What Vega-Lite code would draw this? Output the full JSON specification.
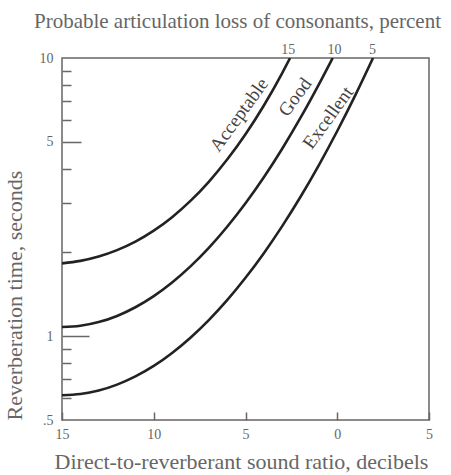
{
  "$schema": "https://vega.github.io/schema/vega-lite/v6.json",
  "width": 367,
  "height": 362,
  "autosize": {"type": "none"},
  "padding": {"left": 62, "top": 58, "right": 22, "bottom": 55},
  "background": "white",
  "config": {
    "view": {"stroke": "#666", "strokeWidth": 1.5},
    "font": "Liberation Serif",
    "axis": {
      "grid": false,
      "domain": false,
      "labelFont": "Liberation Serif",
      "titleFont": "Liberation Serif",
      "labelColor": "#666",
      "titleColor": "#666",
      "titleFontWeight": "normal",
      "tickColor": "#666",
      "tickWidth": 1.5,
      "labelFontSize": 14,
      "titleFontSize": 22,
      "labelOverlap": false,
      "labelBound": false,
      "labelFlush": false
    }
  },
  "datasets": {
    "curves": [
      {"curve": "Acceptable", "db": 15, "t": 1.828},
      {"curve": "Acceptable", "db": 14, "t": 1.866},
      {"curve": "Acceptable", "db": 13, "t": 1.934},
      {"curve": "Acceptable", "db": 12, "t": 2.039},
      {"curve": "Acceptable", "db": 11, "t": 2.188},
      {"curve": "Acceptable", "db": 10, "t": 2.396},
      {"curve": "Acceptable", "db": 9, "t": 2.679},
      {"curve": "Acceptable", "db": 8, "t": 3.064},
      {"curve": "Acceptable", "db": 7, "t": 3.589},
      {"curve": "Acceptable", "db": 6, "t": 4.315},
      {"curve": "Acceptable", "db": 5, "t": 5.32},
      {"curve": "Acceptable", "db": 4, "t": 6.75},
      {"curve": "Acceptable", "db": 3, "t": 8.83},
      {"curve": "Acceptable", "db": 2.57, "t": 10},
      {"curve": "Good", "db": 15, "t": 1.079},
      {"curve": "Good", "db": 14, "t": 1.09},
      {"curve": "Good", "db": 13, "t": 1.124},
      {"curve": "Good", "db": 12, "t": 1.183},
      {"curve": "Good", "db": 11, "t": 1.271},
      {"curve": "Good", "db": 10, "t": 1.394},
      {"curve": "Good", "db": 9, "t": 1.56},
      {"curve": "Good", "db": 8, "t": 1.782},
      {"curve": "Good", "db": 7, "t": 2.078},
      {"curve": "Good", "db": 6, "t": 2.475},
      {"curve": "Good", "db": 5, "t": 3.006},
      {"curve": "Good", "db": 4, "t": 3.728},
      {"curve": "Good", "db": 3, "t": 4.72},
      {"curve": "Good", "db": 2, "t": 6.1},
      {"curve": "Good", "db": 1, "t": 8.04},
      {"curve": "Good", "db": 0.25, "t": 10},
      {"curve": "Excellent", "db": 15, "t": 0.614},
      {"curve": "Excellent", "db": 14, "t": 0.62},
      {"curve": "Excellent", "db": 13, "t": 0.638},
      {"curve": "Excellent", "db": 12, "t": 0.67},
      {"curve": "Excellent", "db": 11, "t": 0.717},
      {"curve": "Excellent", "db": 10, "t": 0.782},
      {"curve": "Excellent", "db": 9, "t": 0.871},
      {"curve": "Excellent", "db": 8, "t": 0.988},
      {"curve": "Excellent", "db": 7, "t": 1.143},
      {"curve": "Excellent", "db": 6, "t": 1.348},
      {"curve": "Excellent", "db": 5, "t": 1.622},
      {"curve": "Excellent", "db": 4, "t": 1.989},
      {"curve": "Excellent", "db": 3, "t": 2.487},
      {"curve": "Excellent", "db": 2, "t": 3.171},
      {"curve": "Excellent", "db": 1, "t": 4.123},
      {"curve": "Excellent", "db": 0, "t": 5.465},
      {"curve": "Excellent", "db": -1, "t": 7.384},
      {"curve": "Excellent", "db": -1.95, "t": 10}
    ],
    "labels": [
      {"label": "Acceptable", "db": 5.35, "t": 6.25},
      {"label": "Good", "db": 2.3, "t": 7.24},
      {"label": "Excellent", "db": 0.5, "t": 6.1}
    ]
  },
  "layer": [
    {
      "data": {"name": "curves"},
      "mark": {"type": "line", "interpolate": "monotone", "color": "#222", "strokeWidth": 2.6, "clip": true},
      "encoding": {
        "x": {
          "field": "db",
          "type": "quantitative",
          "scale": {"domain": [-5, 15], "reverse": true, "nice": false, "zero": false},
          "axis": {
            "orient": "bottom",
            "values": [15, 10, 5, 0, -5],
            "labelExpr": "'' + abs(datum.value)",
            "tickSize": -8,
            "labelPadding": 15,
            "title": "Direct-to-reverberant sound ratio, decibels",
            "titleX": 179,
            "titleY": 48,
            "titleBaseline": "alphabetic",
            "titleAlign": "center"
          }
        },
        "y": {
          "field": "t",
          "type": "quantitative",
          "scale": {"type": "log", "domain": [0.5, 10], "nice": false},
          "axis": {
            "orient": "left",
            "values": [0.5, 1, 5, 10],
            "ticks": false,
            "labelPadding": 9,
            "labelExpr": "datum.value == 0.5 ? '.5' : '' + datum.value",
            "title": "Reverberation time, seconds",
            "titleAnchor": "start",
            "titleX": -41,
            "titleBaseline": "alphabetic"
          }
        },
        "detail": {"field": "curve"}
      }
    },
    {
      "data": {"name": "labels"},
      "mark": {"type": "text", "angle": -54, "fontSize": 19, "color": "#444", "font": "Liberation Serif"},
      "encoding": {
        "x": {
          "field": "db",
          "type": "quantitative",
          "axis": {
            "orient": "top",
            "values": [2.7, 0.18, -1.9],
            "labelExpr": "datum.value > 2 ? '15' : (datum.value > 0 ? '10' : '5')",
            "ticks": false,
            "labelPadding": 2,
            "title": "Probable articulation loss of consonants, percent",
            "titleFontSize": 21,
            "titleX": 175,
            "titleY": -31,
            "titleBaseline": "alphabetic",
            "titleAlign": "center"
          }
        },
        "y": {
          "field": "t",
          "type": "quantitative",
          "axis": {
            "orient": "left",
            "values": [0.6, 0.7, 0.8, 0.9, 1, 2, 3, 4, 5, 6, 7, 8, 9],
            "labels": false,
            "title": null,
            "tickSize": {"condition": [{"test": "datum.value == 1", "value": -27}, {"test": "datum.value == 5", "value": -19}], "value": -9}
          }
        },
        "text": {"field": "label"}
      }
    }
  ],
  "resolve": {"axis": {"x": "independent", "y": "independent"}}
}
